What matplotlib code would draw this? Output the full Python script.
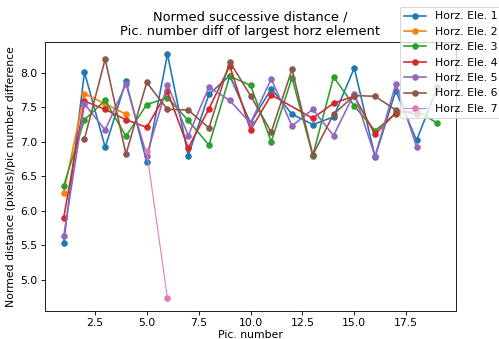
import matplotlib
matplotlib.use("Agg")
import matplotlib.pyplot as plt

# picture numbers for each horizontal element
pics_1 = list(range(1, 20))
pics_2 = [1, 2, 3, 4]
pics_3 = list(range(1, 20))
pics_4 = [1, 2, 3, 4, 5, 6, 7, 8, 9, 10, 11, 13, 14, 15, 16, 17]
pics_5 = list(range(1, 19))
pics_6 = list(range(2, 19))
pics_7 = [5, 6]

# normed successive distances
dist_1 = [5.53, 8.01, 6.92, 7.88, 6.71, 8.27, 6.80, 7.69, 7.96, 7.27,
          7.77, 7.40, 7.25, 7.36, 8.07, 6.78, 7.74, 7.02, 7.79]
dist_2 = [6.26, 7.70, 7.55, 7.40]
dist_3 = [6.36, 7.32, 7.60, 7.08, 7.54, 7.64, 7.31, 6.95, 7.95, 7.82,
          7.00, 7.93, 6.80, 7.94, 7.52, 7.16, 7.41, 7.45, 7.27]
dist_4 = [5.90, 7.59, 7.47, 7.32, 7.21, 7.73, 6.91, 7.48, 8.10, 7.17,
          7.68, 7.34, 7.56, 7.66, 7.11, 7.42]
dist_5 = [5.63, 7.55, 7.17, 7.84, 6.80, 7.83, 7.09, 7.79, 7.60, 7.27,
          7.91, 7.23, 7.47, 7.09, 7.70, 6.79, 7.84, 6.93]
dist_6 = [7.04, 8.20, 6.82, 7.86, 7.47, 7.46, 7.20, 8.16, 7.67, 7.14,
          8.05, 6.81, 7.40, 7.67, 7.66, 7.46, 7.40]
dist_7 = [6.86, 4.73]

DPI = 78
fig = plt.figure(figsize=(499 / DPI, 339 / DPI), dpi=DPI)
ax = fig.add_axes([45 / 499, 1 - 310.5 / 339, 411 / 499, 268.5 / 339])

ax.plot(pics_1, dist_1, marker='o', markersize=5, label='Horz. Ele. 1')
ax.plot(pics_2, dist_2, marker='o', markersize=5, label='Horz. Ele. 2')
ax.plot(pics_3, dist_3, marker='o', markersize=5, label='Horz. Ele. 3')
ax.plot(pics_4, dist_4, marker='o', markersize=5, label='Horz. Ele. 4')
ax.plot(pics_5, dist_5, marker='o', markersize=5, label='Horz. Ele. 5')
ax.plot(pics_6, dist_6, marker='o', markersize=5, label='Horz. Ele. 6')
ax.plot(pics_7, dist_7, marker='o', markersize=5, label='Horz. Ele. 7', linewidth=1)

ax.set_xlabel('Pic. number', labelpad=2)
ax.set_ylabel('Normed distance (pixels)/pic number difference')
ax.set_title('Normed successive distance /\nPic. number diff of largest horz element')

fig.legend(loc='upper left', bbox_to_anchor=(400 / 499, 1 - 7 / 339), borderaxespad=0)

fig.savefig('out.png', dpi=DPI)
